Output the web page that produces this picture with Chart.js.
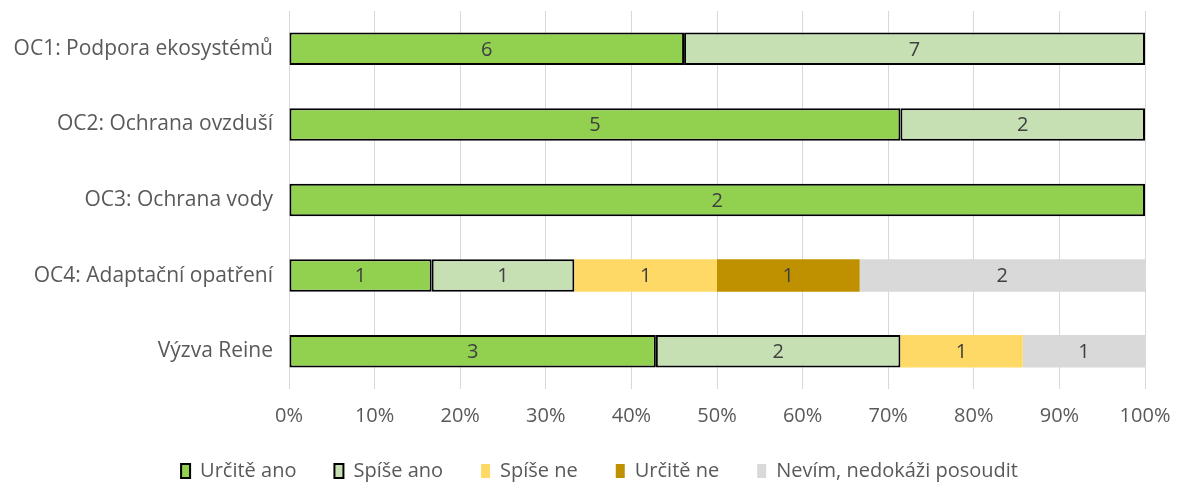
<!DOCTYPE html>
<html>
<head>
<meta charset="utf-8">
<script src="https://cdn.jsdelivr.net/npm/chart.js@4"></script>
<style>
  html, body { margin: 0; padding: 0; background: #fff; }
  #wrap { width: 1181px; height: 486px; }
</style>
</head>
<body>
<div id="wrap"><canvas id="chart"></canvas></div>
<script>
const categories = ["OC1: Podpora ekosystémů", "OC2: Ochrana ovzduší", "OC3: Ochrana vody", "OC4: Adaptační opatření", "Výzva Reine"];
const seriesNames = ["Určitě ano", "Spíše ano", "Spíše ne", "Určitě ne", "Nevím, nedokáži posoudit"];
const urciteAno = [6, 5, 2, 1, 3];
const spiseAno = [7, 2, 0, 1, 2];
const spiseNe = [0, 0, 0, 1, 1];
const urciteNe = [0, 0, 0, 1, 0];
const nevim = [0, 0, 0, 2, 1];
const xTicks = [0, 10, 20, 30, 40, 50, 60, 70, 80, 90, 100];

const counts = [urciteAno, spiseAno, spiseNe, urciteNe, nevim];
const colors = ["#92D050", "#C6E0B4", "#FFD966", "#BF9000", "#D9D9D9"];
const bordered = [true, true, false, false, false];
const FONT = "'Open Sans', sans-serif";
const TEXT = "#595959";

// row totals for the 100% stack
const totals = categories.map((c, i) => counts.reduce((s, arr) => s + arr[i], 0));

const datasets = seriesNames.map((name, k) => ({
  label: name,
  data: counts[k].map((v, i) => v / totals[i] * 100),
  counts: counts[k],
  backgroundColor: colors[k],
  borderColor: bordered[k] ? "#000000" : colors[k],
  borderWidth: bordered[k] ? 2 : 0,
  borderSkipped: false,
  categoryPercentage: 1,
  barPercentage: 0.43
}));

// draw the counts in the middle of each segment
const countLabels = {
  id: "countLabels",
  afterDatasetsDraw(chart) {
    const ctx = chart.ctx;
    ctx.save();
    ctx.font = "20px " + FONT;
    ctx.fillStyle = "#404040";
    ctx.textAlign = "center";
    ctx.textBaseline = "middle";
    chart.data.datasets.forEach((ds, k) => {
      const meta = chart.getDatasetMeta(k);
      meta.data.forEach((bar, i) => {
        const n = ds.counts[i];
        if (!n) return;
        const x = (bar.x + bar.base) / 2;
        ctx.fillText(String(n), x, bar.y + 1);
      });
    });
    ctx.restore();
  }
};

// legend in the reference sits a bit right of the canvas centre
const legendShift = {
  id: "legendShift",
  afterLayout(chart) {
    chart.legend.left += 27;
    chart.legend.right += 27;
  }
};

new Chart(document.getElementById("chart"), {
  type: "bar",
  data: { labels: categories, datasets: datasets },
  plugins: [countLabels, legendShift],
  options: {
    indexAxis: "y",
    responsive: true,
    maintainAspectRatio: false,
    animation: false,
    layout: { padding: { left: 0, right: 36, top: 11, bottom: -5 } },
    scales: {
      x: {
        stacked: true,
        min: 0,
        max: 100,
        afterBuildTicks(scale) { scale.ticks = xTicks.map(v => ({ value: v })); },
        afterFit(scale) {
          scale.height = 34;
          scale.paddingLeft = 0;
          scale.paddingRight = 0;
        },
        grid: { color: "#D9D9D9", lineWidth: 1, drawTicks: false },
        border: { display: false },
        ticks: {
          padding: 15,
          color: TEXT,
          font: { family: FONT, size: 20 },
          callback: v => v + "%"
        }
      },
      y: {
        stacked: true,
        afterFit(scale) {
          scale.width = 289;
          scale.paddingTop = 0;
          scale.paddingBottom = 0;
        },
        grid: { display: false },
        border: { display: false },
        ticks: {
          padding: 8,
          color: TEXT,
          font: { family: FONT, size: 21 }
        }
      }
    },
    plugins: {
      legend: {
        position: "bottom",
        labels: {
          color: TEXT,
          font: { family: FONT, size: 20 },
          boxWidth: 9,
          boxHeight: 14,
          padding: 38
        }
      },
      tooltip: { enabled: false }
    }
  }
});
</script>
</body>
</html>
